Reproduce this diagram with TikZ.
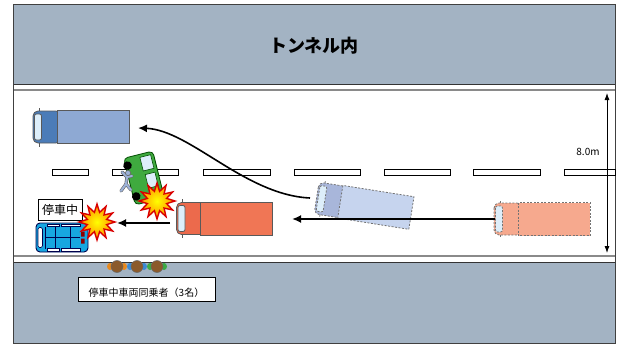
\documentclass[tikz,border=0pt]{standalone}
\usepackage{fontspec}
\newfontfamily\jp{Noto Sans CJK JP}
\usetikzlibrary{arrows.meta,shapes.geometric}

\definecolor{band}{HTML}{A3B3C3}
\definecolor{edgegray}{HTML}{8A8A8A}
\definecolor{winlight}{HTML}{DDEEFA}
\definecolor{truckblue}{HTML}{8EA9D3}
\definecolor{cabblue}{HTML}{4B7CB8}
\definecolor{ghostblue}{HTML}{C6D4EE}
\definecolor{ghostcab}{HTML}{A8B6DA}
\definecolor{truckred}{HTML}{F07655}
\definecolor{cabred}{HTML}{EC6A4C}
\definecolor{ghostred}{HTML}{F6A98E}
\definecolor{cargreen}{HTML}{3FAA3F}
\definecolor{carcyan}{HTML}{17A6E0}
\definecolor{walker}{HTML}{9DB2D8}
\definecolor{headbrown}{HTML}{8B5A2B}
\definecolor{shoulderA}{HTML}{E8891E}
\definecolor{shoulderB}{HTML}{3A8AD6}
\definecolor{shoulderC}{HTML}{3BAA45}

\tikzset{
  solidline/.style={draw=black!65, line width=0.8pt},
  ghostline/.style={draw=black!55, line width=0.8pt, dash pattern=on 2pt off 1.5pt},
  lanemark/.style={draw=black, fill=white, line width=0.7pt},
  movearrow/.style={line width=2pt, -{Latex[length=9pt,width=8pt]}},
  labelbox/.style={draw=black, fill=white, line width=0.9pt, inner sep=0pt},
  crash/.style={star, star points=12, star point ratio=1.8, minimum size=36pt,
    inner sep=0pt, inner color=yellow, outer color=orange!90!yellow,
    draw=red!85!black, line width=1.4pt},
  pics/truck/.style n args={4}{code={
    \draw[#4, fill=#2, rounded corners=5pt] (-48,-16) rectangle (-20,16);
    \draw[#4, fill=#3] (-24,-16.5) rectangle (48,16.5);
    \draw[#4, fill=#1, rounded corners=2pt] (-46.5,-13) rectangle (-39.5,13);
    \draw[#4] (-42,-16) -- (-42,-19.5) (-42,16) -- (-42,19.5);
  }},
  pics/van/.style={code={
    \draw[draw=black!70!green, line width=0.8pt, fill=cargreen, rounded corners=4pt]
      (-15,-24) rectangle (15,24);
    \draw[draw=black!70!green, line width=0.6pt, fill=winlight] (1,-21) rectangle (12,-7);
    \draw[draw=black!70!green, line width=0.6pt, fill=winlight] (2,-3) rectangle (12,11);
    \fill[black] (-13,-16) circle (4.3);
    \fill[black] (-12,16) circle (4.3);
  }},
  pics/wagon/.style={code={
    \draw[draw=black!70!blue, line width=0.9pt, fill=carcyan, rounded corners=4pt]
      (-26,-14.5) rectangle (26,14.5);
    \draw[draw=black!70!blue, line width=0.6pt, fill=white, rounded corners=1.5pt]
      (-24,-10) rectangle (-19.5,10);
    \foreach \a/\b in {-15/-3,-1/18} {
      \draw[draw=black!70!blue, line width=0.5pt, fill=white] (\a,-13.5) rectangle (\b,-11);
      \draw[draw=black!70!blue, line width=0.5pt, fill=white] (\a,11) rectangle (\b,13.5);
    }
    \draw[black!70!blue, line width=0.6pt] (-17,-11) -- (-17,11) (-7,-11) -- (-7,11)
      (8,-11) -- (8,11) (-17,0) -- (18,0);
    \fill[red!55!black] (19,-6) rectangle (22.5,-1) (19,1) rectangle (22.5,6);
  }},
}

\begin{document}
\begin{tikzpicture}[x=1pt, y=-1pt]
\useasboundingbox (0,0) rectangle (621,345);

% tunnel bands and road
\fill[band] (13,5) rectangle (615,84.5);
\fill[band] (13,262) rectangle (615,343);
\draw[black!80, line width=1pt] (13,84.5) -- (615,84.5);
\draw[edgegray, line width=1.5pt] (13,90) -- (615,90);
\draw[edgegray, line width=1.5pt] (13,256) -- (615,256);
\draw[black!80, line width=1pt] (13,262) -- (615,262);
\draw[black!75, line width=1pt] (13,5) rectangle (615,343);

\node (title) at (314,46) {\jp\bfseries\fontsize{18}{18}\selectfont トンネル内};

% centre lane marks
\foreach \a/\b in {52/88,112/178,203/270,294/360,384/450,473/540,564/615}
  \draw[lanemark] (\a,169) rectangle (\b,175);

% lane width
\coordinate (widthtop) at (607,93);
\coordinate (widthbot) at (607,253);
\draw[line width=0.8pt, {Latex[length=7pt,width=5pt]}-{Latex[length=7pt,width=5pt]}]
  (widthtop) -- (widthbot);
\node (width) at (588,152) {\jp\fontsize{10}{10}\selectfont 8.0m};

% final position of the truck
\pic (bluetruck) at (81,127) {truck={winlight}{cabblue}{truckblue}{solidline}};

% van knocked over and pedestrian
\pic[rotate=14] (van) at (144,178) {van};
\draw[black!60, line width=3.2pt, line cap=round, line join=round]
  (121,191) -- (126,184) -- (131,190) (126,184) -- (127,177) -- (122,172)
  (127,177) -- (132,176);
\draw[walker, line width=2pt, line cap=round, line join=round]
  (121,191) -- (126,184) -- (131,190) (126,184) -- (127,177) -- (122,172)
  (127,177) -- (132,176);
\draw[black!60, fill=walker, line width=0.6pt] (128,173) circle (2.6);

% stopped car
\pic (wagon) at (62,237.5) {wagon};
\node[labelbox, minimum width=44pt, minimum height=21pt] (stopped) at (60,209.5)
  {\jp\fontsize{12}{12}\selectfont 停車中};

% trucks
\pic (redtruck) at (224.5,218.5) {truck={winlight}{cabred}{truckred}{solidline}};
\pic[rotate=-9] (ghostbluetruck) at (364,205.5) {truck={winlight}{ghostcab}{ghostblue}{ghostline}};
\pic (ghostredtruck) at (542,219) {truck={winlight}{ghostred}{ghostred}{ghostline}};

% impacts
\node[crash] (hitvan) at (157,201) {};
\node[crash] (hitcar) at (97,222) {};

% paths of the vehicles
\coordinate (ghostredfront) at (495,219);
\coordinate (ghostbluebelow) at (292,219);
\coordinate (ghostbluefront) at (310,198);
\coordinate (bluetruckrear) at (138,128);
\coordinate (redtruckfront) at (170,223);
\coordinate (stoppedrear) at (117,223);
\draw[movearrow] (ghostredfront) -- (ghostbluebelow);
\draw[movearrow] (redtruckfront) -- (stoppedrear);
\draw[movearrow, line width=1.6pt] (ghostbluefront) .. controls (245,195) and (190,130) .. (bluetruckrear);

% passengers of the stopped car
\foreach \x/\c in {117/shoulderA,137/shoulderB,157/shoulderC} {
  \fill[\c] (\x-7,266.5) ellipse (3 and 3.5);
  \fill[\c] (\x+7,266.5) ellipse (3 and 3.5);
  \draw[black!60, fill=headbrown, line width=0.5pt] (\x,266.5) circle (6);
}
\node[labelbox, minimum width=137pt, minimum height=24pt] (riders) at (146.5,289) {};
\node (riderstext) at ([yshift=-4pt]riders.center)
  {\jp\fontsize{10}{10}\selectfont 停車中車両同乗者（3名）};
\end{tikzpicture}
\end{document}
